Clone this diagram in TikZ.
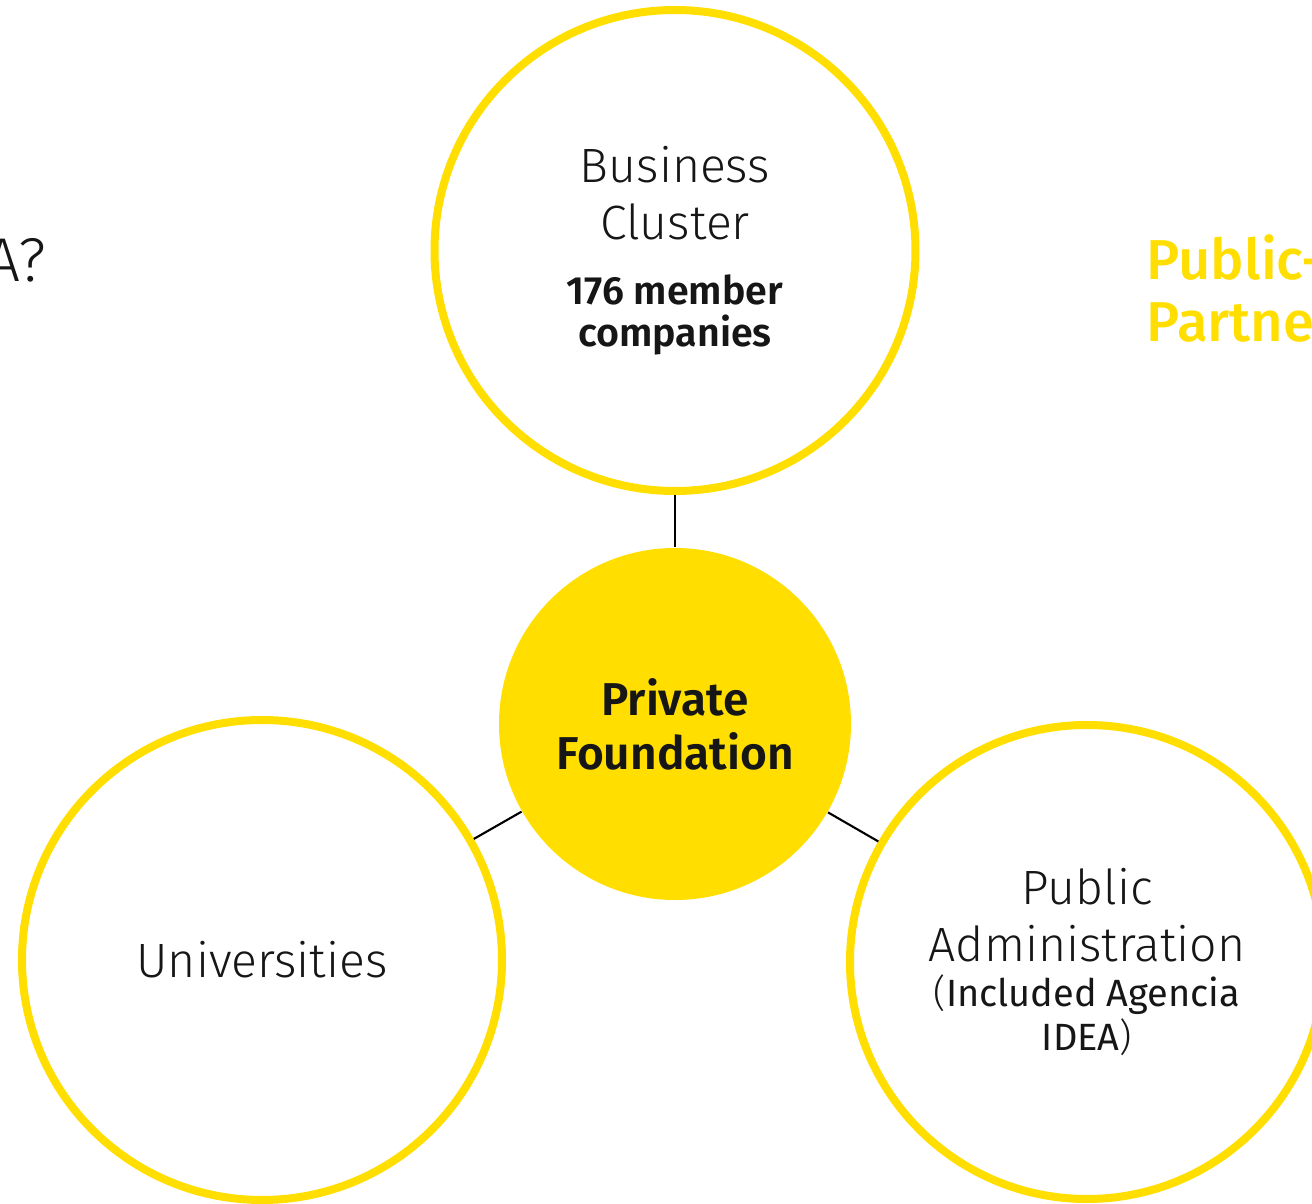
\documentclass[tikz,border=0pt]{standalone}
\usepackage{fontspec}
\setmainfont{Fira Sans}
\newfontfamily\plexlight{Fira Sans Light}
\newfontfamily\plexmedium{Fira Sans Medium}
\newfontfamily\plexsemi{Fira Sans SemiBold}
\usetikzlibrary{positioning}
\definecolor{brightyellow}{RGB}{255,222,0}
\definecolor{inkblack}{RGB}{22,22,22}
\newcommand\smallbold{\fontsize{11.2}{11.4}\selectfont\plexsemi}
\newcommand\smallnote{\fontsize{10.8}{12.5}\selectfont\rmfamily}

\begin{document}
\begin{tikzpicture}[
    ring/.style={circle, draw=brightyellow, line width=0.08cm, inner sep=0pt, align=center, text=inkblack},
    core/.style={circle, fill=brightyellow, inner sep=0pt, align=center, text=inkblack},
    link/.style={draw=black, line width=0.6pt},
    lighttext/.style={font=\fontsize{13.7}{16.2}\selectfont\plexlight}
]
    % Canvas
    \useasboundingbox (0,0) rectangle (13.12,-12.04);

    % Heading fragments
    \node[anchor=base east, inner sep=0pt, text=inkblack, font=\fontsize{17.6}{20}\selectfont\plexlight] (askmark) at (0.47,-2.82) {A?};
    \node[anchor=north west, inner sep=0pt, align=left, text=brightyellow, font=\fontsize{16}{17.6}\selectfont\plexmedium] (ppp) at (11.46,-2.34) {Public-\\Partne};

    % Central foundation
    \node[core, minimum size=3.52cm, font=\fontsize{13.1}{15.4}\selectfont\plexsemi] (hub) at (6.75,-7.24) {Private\\Foundation};

    % Partners
    \node[ring, minimum size=4.81cm, lighttext] (cluster) at (6.75,-2.505)
        {Business\\Cluster\\[2.2pt]\smallbold 176 member\\[-4.2pt]\smallbold companies};
    \node[ring, minimum size=4.80cm, lighttext] (unis) at (2.62,-9.60) {Universities};
    \node[ring, minimum size=4.74cm, lighttext] (admin) at (10.87,-9.62)
        {Public\\Administration\\[-3.4pt]\smallnote{\plexlight(}Included Agencia\\[-3.7pt]\smallnote IDEA{\plexlight)}};

    % Links
    \draw[link] (cluster) -- (hub);
    \draw[link] (unis) -- (hub);
    \draw[link] (admin) -- (hub);
\end{tikzpicture}
\end{document}
